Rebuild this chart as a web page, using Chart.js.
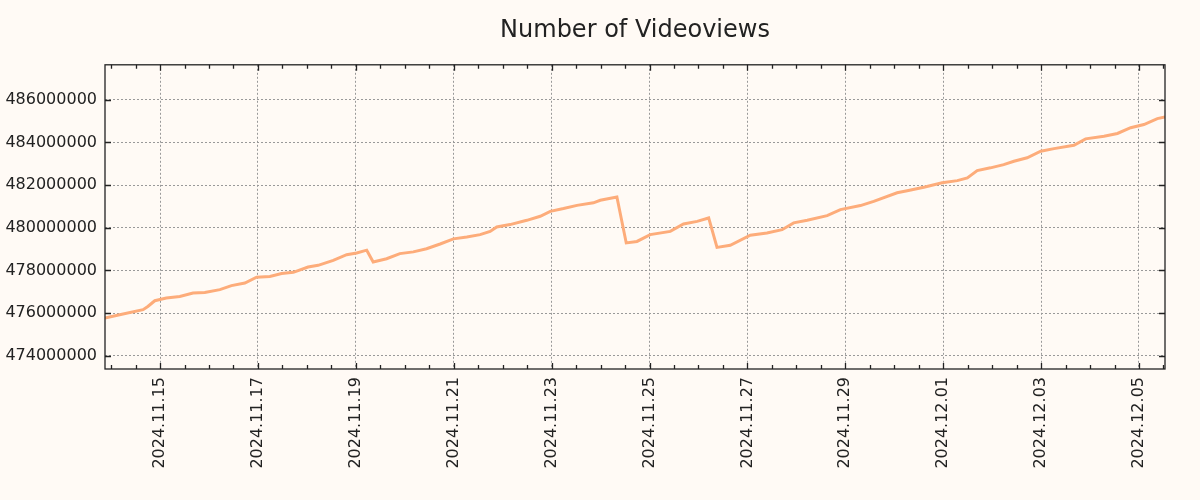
<!DOCTYPE html>
<html>
<head>
<meta charset="utf-8">
<title>Number of Videoviews</title>
<script src="https://cdn.jsdelivr.net/npm/chart.js@4.4.1/dist/chart.umd.min.js"></script>
<style>
  html, body { margin: 0; padding: 0; background: #fffaf5; }
  #wrap { width: 1200px; height: 500px; }
</style>
</head>
<body>
<div id="wrap"><canvas id="myChart" width="1200" height="500"></canvas></div>
<script>
// data (UTC timestamps)
const times = [
  "2024-11-13 21:00", "2024-11-14 04:10", "2024-11-14 15:40", "2024-11-14 18:00", "2024-11-14 21:25",
  "2024-11-15 03:05", "2024-11-15 09:40", "2024-11-15 16:10", "2024-11-15 21:55", "2024-11-16 05:20",
  "2024-11-16 11:00", "2024-11-16 17:35", "2024-11-16 23:20", "2024-11-17 05:50", "2024-11-17 11:35",
  "2024-11-17 17:20", "2024-11-18 00:35", "2024-11-18 05:30", "2024-11-18 12:55", "2024-11-18 19:30",
  "2024-11-19 00:25", "2024-11-19 05:20", "2024-11-19 08:30", "2024-11-19 15:05", "2024-11-19 21:35",
  "2024-11-20 04:10", "2024-11-20 10:40", "2024-11-20 17:20", "2024-11-20 23:50", "2024-11-21 06:25",
  "2024-11-21 12:55", "2024-11-21 17:50", "2024-11-21 21:05", "2024-11-22 03:35", "2024-11-22 11:50",
  "2024-11-22 18:25", "2024-11-22 23:20", "2024-11-23 05:50", "2024-11-23 12:25", "2024-11-23 20:30",
  "2024-11-23 23:50", "2024-11-24 08:00", "2024-11-24 12:35", "2024-11-24 17:50", "2024-11-25 00:20",
  "2024-11-25 10:10", "2024-11-25 16:40", "2024-11-25 23:20", "2024-11-26 05:00", "2024-11-26 09:05",
  "2024-11-26 15:35", "2024-11-27 01:25", "2024-11-27 09:35", "2024-11-27 17:00", "2024-11-27 22:40",
  "2024-11-28 05:20", "2024-11-28 15:05", "2024-11-28 21:35", "2024-11-29 07:25", "2024-11-29 13:55",
  "2024-11-30 01:25", "2024-11-30 06:20", "2024-11-30 14:30", "2024-11-30 23:30", "2024-12-01 06:55",
  "2024-12-01 11:50", "2024-12-01 16:40", "2024-12-01 23:10", "2024-12-02 05:40", "2024-12-02 10:40",
  "2024-12-02 17:10", "2024-12-02 23:50", "2024-12-03 06:20", "2024-12-03 16:05", "2024-12-03 21:50",
  "2024-12-04 06:50", "2024-12-04 13:25", "2024-12-04 19:55", "2024-12-05 02:25", "2024-12-05 09:00",
  "2024-12-05 12:45"
];
const views = [
  475770000, 475920000, 476160000, 476310000, 476580000,
  476710000, 476780000, 476940000, 476970000, 477100000,
  477290000, 477410000, 477680000, 477720000, 477860000,
  477910000, 478160000, 478240000, 478470000, 478740000,
  478820000, 478950000, 478400000, 478550000, 478790000,
  478870000, 479020000, 479240000, 479480000, 479570000,
  479680000, 479830000, 480040000, 480150000, 480350000,
  480540000, 480770000, 480900000, 481050000, 481170000,
  481290000, 481440000, 479290000, 479360000, 479680000,
  479830000, 480180000, 480300000, 480460000, 479080000,
  479180000, 479650000, 479760000, 479910000, 480230000,
  480350000, 480570000, 480850000, 481040000, 481240000,
  481640000, 481740000, 481900000, 482110000, 482210000,
  482340000, 482680000, 482810000, 482960000, 483120000,
  483280000, 483590000, 483710000, 483870000, 484170000,
  484290000, 484420000, 484690000, 484840000, 485120000,
  485200000
];
const xTickDates = [
  "2024-11-15 00:00", "2024-11-17 00:00", "2024-11-19 00:00", "2024-11-21 00:00",
  "2024-11-23 00:00", "2024-11-25 00:00", "2024-11-27 00:00", "2024-11-29 00:00",
  "2024-12-01 00:00", "2024-12-03 00:00", "2024-12-05 00:00"
];
const yTicks = [474000000, 476000000, 478000000, 480000000, 482000000, 484000000, 486000000];
const yMin = 473380000;
const yMax = 487640000;

function parseTime(s) {
  const [d, t] = s.split(" ");
  const [yy, mm, dd] = d.split("-").map(Number);
  const [hh, mi] = t.split(":").map(Number);
  return Date.UTC(yy, mm - 1, dd, hh, mi);
}

function fmtDate(ms) {
  const d = new Date(ms);
  const p = (n) => String(n).padStart(2, "0");
  return d.getUTCFullYear() + "." + p(d.getUTCMonth() + 1) + "." + p(d.getUTCDate());
}

const HALF_DAY = 12 * 3600 * 1000;
const ink = "#222222";

// box round the plot and small inward ticks like the original
const framePlugin = {
  id: "frame",
  beforeDraw(chart) {
    const ctx = chart.ctx;
    ctx.save();
    ctx.fillStyle = "#fffaf5";
    ctx.fillRect(0, 0, chart.width, chart.height);
    ctx.restore();
  },
  afterDraw(chart) {
    const { ctx, chartArea: a, scales } = chart;
    ctx.save();
    ctx.strokeStyle = ink;
    ctx.lineWidth = 1.3;
    ctx.beginPath();
    // y ticks, both sides
    yTicks.forEach((v) => {
      const y = Math.round(scales.y.getPixelForValue(v)) + 0.5;
      ctx.moveTo(a.left, y); ctx.lineTo(a.left + 6, y);
      ctx.moveTo(a.right, y); ctx.lineTo(a.right - 6, y);
    });
    // x ticks, major and minor (every 12 hours)
    const majors = xTickDates.map(parseTime);
    let t = Math.ceil(scales.x.min / HALF_DAY) * HALF_DAY;
    for (; t <= scales.x.max; t += HALF_DAY) {
      const x = Math.round(scales.x.getPixelForValue(t)) + 0.5;
      const len = majors.includes(t) ? 6 : 4;
      ctx.moveTo(x, a.bottom); ctx.lineTo(x, a.bottom - len);
      ctx.moveTo(x, a.top); ctx.lineTo(x, a.top + len);
    }
    ctx.stroke();
    ctx.strokeRect(a.left, a.top, a.right - a.left, a.bottom - a.top);
    ctx.restore();
  }
};

function initChart(target) {
  const points = times.map((t, i) => ({ x: parseTime(t), y: views[i] }));

  const data = {
    datasets: [
      {
        label: "Videoviews",
        data: points,
        borderColor: "rgb(253, 172, 122)",
        backgroundColor: "rgb(253, 172, 122)",
        borderWidth: 3,
        pointRadius: 0,
        tension: 0,
        fill: false,
      },
    ],
  };

  const config = {
    type: "line",
    data: data,
    options: {
      responsive: false,
      animation: false,
      layout: { padding: { left: 0, right: 35, top: 0, bottom: 0 } },
      plugins: {
        legend: { display: false },
        tooltip: { enabled: false },
        title: {
          display: true,
          fullSize: false,
          text: "Number of Videoviews",
          color: ink,
          font: { family: "DejaVu Sans", size: 24, weight: "normal" },
          padding: { top: 16, bottom: 20 },
        },
      },
      scales: {
        x: {
          type: "linear",
          min: parseTime(times[0]),
          max: parseTime(times[times.length - 1]),
          afterBuildTicks: (scale) => {
            scale.ticks = xTickDates.map((d) => ({ value: parseTime(d) }));
          },
          afterFit: (scale) => { scale.height = 131; },
          ticks: {
            autoSkip: false,
            minRotation: 90,
            maxRotation: 90,
            padding: 8,
            color: ink,
            font: { family: "DejaVu Sans", size: 16 },
            callback: (v) => fmtDate(v),
          },
          grid: {
            color: "#999999",
            lineWidth: 1,
            drawTicks: false,
          },
          border: { display: false, dash: [2, 2] },
        },
        y: {
          min: yMin,
          max: yMax,
          afterBuildTicks: (scale) => {
            scale.ticks = yTicks.map((v) => ({ value: v }));
          },
          afterFit: (scale) => { scale.width = 105; },
          ticks: {
            padding: 8,
            color: ink,
            font: { family: "DejaVu Sans", size: 16 },
            callback: (v) => String(v),
          },
          grid: {
            color: "#999999",
            lineWidth: 1,
            drawTicks: false,
          },
          border: { display: false, dash: [2, 2] },
        },
      },
    },
    plugins: [framePlugin],
  };

  return new Chart(target, config);
}

document.addEventListener("DOMContentLoaded", () => {
  initChart(document.querySelector("#myChart"));
});
</script>
</body>
</html>
